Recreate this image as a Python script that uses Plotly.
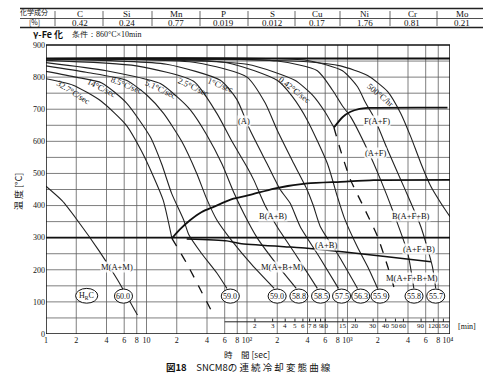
import numpy as np
import plotly.graph_objects as go

# ---------------- data ----------------
elements = ["C", "Si", "Mn", "P", "S", "Cu", "Ni", "Cr", "Mo"]
composition = ["0.42", "0.24", "0.77", "0.019", "0.012", "0.17", "1.76", "0.81", "0.21"]

# cooling curves: log10(time [s]) , temperature [C]
cool_curves = {
    "c0":    ([0, 0.16, 0.31, 0.53, 0.71, 0.91], [460, 415, 355, 258, 170, 59]),
    "32.7":  ([0, 0.27, 0.55, 0.8, 0.95, 1.07, 1.166, 1.253], [795, 775, 725, 650, 570, 490, 417, 298]),
    "14":    ([0, 0.3, 0.555, 0.8, 1.037, 1.15, 1.25, 1.37, 1.42, 1.55, 1.70, 1.80],
              [818, 800, 782, 720, 614, 530, 438, 355, 310, 250, 190, 142]),
    "8.5":   ([0, 0.4, 0.80, 1.0, 1.17, 1.35, 1.5, 1.6, 1.70, 1.85, 2.05, 2.27],
              [835, 815, 790, 745, 687, 600, 500, 420, 355, 290, 215, 142]),
    "5.1":   ([0, 0.6, 1.137, 1.3, 1.436, 1.6, 1.75, 1.87, 1.967, 2.1, 2.3, 2.49],
              [845, 820, 780, 740, 698, 620, 530, 440, 376, 300, 215, 142]),
    "2.5":   ([0, 0.9, 1.469, 1.70, 1.85, 2.0, 2.067, 2.18, 2.30, 2.5, 2.70],
              [852, 835, 787, 687, 600, 520, 480, 400, 334, 240, 142]),
    "1":     ([0, 1.2, 1.735, 1.9, 2.03, 2.2, 2.33, 2.43, 2.53, 2.72, 2.91],
              [856, 840, 790, 730, 635, 530, 450, 407, 334, 240, 142]),
    "c7":    ([0, 1.5, 2.0, 2.18, 2.30, 2.45, 2.60, 2.66, 2.73, 2.92, 3.10],
              [857, 845, 800, 720, 635, 540, 448, 400, 334, 240, 142]),
    "c8":    ([0, 1.8, 2.3, 2.45, 2.60, 2.80, 2.90, 2.97, 3.1, 3.2, 3.30],
              [858, 845, 790, 740, 666, 531, 427, 360, 270, 210, 142]),
    "0.42":  ([0, 2.0, 2.476, 2.65, 2.78, 2.865], [858, 840, 790, 745, 690, 643]),
    "c9":    ([0, 2.3, 2.7, 2.85, 2.95, 3.03, 3.2, 3.33, 3.46, 3.60, 3.66],
              [858, 850, 820, 760, 710, 677, 573, 480, 376, 251, 142]),
    "c10":   ([0, 2.6, 2.95, 3.1, 3.18, 3.26, 3.40, 3.56, 3.73, 3.845, 3.878],
              [858, 852, 820, 770, 720, 677, 573, 459, 334, 210, 142]),
    "500hr": ([0, 1.934, 2.60, 2.93, 3.20, 3.40, 3.53, 3.63, 3.73, 3.83, 3.93, 4.02],
              [858, 854, 848, 835, 805, 755, 687, 614, 532, 459, 407, 365]),
}
rate_labels = ["32.7°C/sec", "14°C/sec", "8.5°C/sec", "5.1°C/sec", "2.5°C/sec", "1°C/sec", "0.42°C/sec", "500°C/hr"]
rate_label_x = [0.272, 0.555, 0.80, 1.137, 1.469, 1.735, 2.476, 3.33]
rate_label_T = [755, 765, 775, 762, 770, 775, 760, 745]
rate_label_angle = [32, 27, 22, 25, 25, 22, 38, 40]

# transformation lines (log10 time, temperature)
top_line = ([0, 4.02], [858, 858])
ms_line = ([0, 4.02], [300, 300])
bs_line = ([1.253, 1.33, 1.436, 1.55, 1.668, 1.85, 2.03, 2.27, 2.6, 2.93, 3.26, 4.02],
           [298, 325, 355, 380, 396, 420, 433, 453, 469, 474, 479, 480])
fs_line = ([2.865, 2.95, 3.03, 3.12, 3.2, 3.995], [643, 675, 692, 701, 704, 705])
ms2_line = ([1.40, 1.80, 1.93, 2.37, 2.60, 3.33, 3.83], [296, 290, 282, 272, 267, 243, 225])
dash_b = ([1.253, 1.40, 1.55, 1.668], [298, 220, 130, 59])
dash_f = ([2.865, 2.93, 3.03, 3.16, 3.30, 3.40, 3.48], [643, 573, 480, 396, 303, 210, 127])

region_labels = ["(A)", "F(A+F)", "(A+F)", "B(A+B)", "B(A+F+B)", "(A+B)", "(A+F+B)",
                 "M(A+B+M)", "M(A+F+B+M)", "M(A+M)"]
region_x = [1.967, 3.297, 3.28, 2.256, 3.63, 2.788, 3.712, 2.35, 3.646, 0.705]
region_T = [663, 664, 565, 369, 369, 277, 264, 210, 173, 210]

hardness = ["60.0", "59.0", "59.0", "58.8", "58.5", "57.5", "56.3", "55.9", "55.8", "55.7"]
hardness_x = [0.771, 1.834, 2.30, 2.516, 2.732, 2.941, 3.131, 3.323, 3.662, 3.878]
hardness_T = 118

sec_ticks = [1, 2, 4, 6, 8, 10, 20, 40, 60, 80, 100, 200, 400, 600, 800, 1000, 2000, 4000, 6000, 8000, 10000]
sec_tick_text = ["1", "2", "4", "6", "8", "10", "2", "4", "6", "8", "10²", "2", "4", "6", "8", "10³",
                 "2", "4", "6", "8", "10⁴"]
min_ticks = [2, 3, 4, 5, 6, 7, 8, 9, 10, 15, 20, 30, 40, 50, 60, 90, 120, 150]
temp_ticks = list(range(0, 901, 100))

# ---------------- figure ----------------
SERIF = "Liberation Serif"
CJK = "Noto Sans CJK JP"
INK = "#111"
GRID = "#5e5e5e"
XMAX = 4.02
YTOP = 334 / 0.3211          # axis extends to the top edge of the page so the header table fits inside
fig = go.Figure()

# pixel helpers for decorations (paper coords; plot area spans x 46..450, y 0..334)
PX = lambda px: (px - 46) / 404.0
PY = lambda py: (334 - py) / 334.0


def note(x, y, text, size=8.5, family=SERIF, angle=0, xanchor="center", bg=None, xshift=0, paper=False):
    kw = dict(x=x, y=y, text=text, showarrow=False, textangle=angle, xanchor=xanchor, yanchor="middle",
              xshift=xshift, font=dict(family=family, size=size, color=INK))
    if paper:
        kw.update(xref="paper", yref="paper")
    if bg:
        kw.update(bgcolor=bg, borderpad=0)
    fig.add_annotation(**kw)


def seg(x, y, w=1.0, color="#222", dash="solid", spline=False):
    line = dict(color=color, width=w, dash=dash)
    if spline:
        line.update(shape="spline", smoothing=0.6)
    fig.add_trace(go.Scatter(x=x, y=y, mode="lines", line=line, hoverinfo="skip", showlegend=False))


# grid and frame
for T in range(50, 900, 50):
    fig.add_shape(type="line", xref="x", yref="y", x0=0, x1=XMAX, y0=T, y1=T, layer="below",
                  line=dict(color=GRID, width=0.8))
for t in sec_ticks[1:-1]:
    fig.add_shape(type="line", xref="x", yref="y", x0=np.log10(t), x1=np.log10(t), y0=0, y1=900,
                  layer="below", line=dict(color=GRID, width=0.8))
fig.add_shape(type="rect", xref="x", yref="y", x0=0, x1=XMAX, y0=0, y1=900, line=dict(color=INK, width=1.5))

for name, (lx, T) in cool_curves.items():
    seg(lx, T, w=1.1, color="#222", spline=True)

for (lx, T), w, d in [(top_line, 1.8, "solid"), (ms_line, 1.8, "solid"), (bs_line, 1.8, "solid"),
                      (fs_line, 1.8, "solid"), (ms2_line, 1.5, "solid"),
                      (dash_b, 1.3, "dash"), (dash_f, 1.3, "dash")]:
    seg(lx, T, w=w, color=INK, dash=d, spline=True)

# minute scale
seg([np.log10(60), XMAX], [38, 38], w=1)
for m in min_ticks:
    seg([np.log10(m * 60)] * 2, [38, 48], w=1)
    note(np.log10(m * 60), 24, str(m), size=7)
note(XMAX, 24, "[min]", size=8, xanchor="left", xshift=6)

for txt, x, T, a in zip(rate_labels, rate_label_x, rate_label_T, rate_label_angle):
    note(x, T, txt, size=8.5, angle=a)
for txt, x, T in zip(region_labels, region_x, region_T):
    note(x, T, txt, size=8.5, bg="rgba(255,255,255,0.85)")
for txt, x in zip(hardness, hardness_x):
    fig.add_shape(type="circle", xref="x", yref="y", x0=x - 0.09, x1=x + 0.09, y0=hardness_T - 22,
                  y1=hardness_T + 22, line=dict(color=INK, width=1), fillcolor="white")
    note(x, hardness_T, txt, size=8)
xh = 0.405
fig.add_shape(type="circle", xref="x", yref="y", x0=xh - 0.11, x1=xh + 0.11, y0=96, y1=142,
              line=dict(color=INK, width=1), fillcolor="white")
note(xh, 119, "H<sub>R</sub>C", size=8)

# header table
for py, w in [(8.5, 1.5), (18.5, 0.8), (27.5, 1.5)]:
    fig.add_shape(type="line", xref="paper", yref="paper", x0=PX(20), x1=PX(483), y0=PY(py), y1=PY(py),
                  line=dict(color="#222", width=w))
for px in [55, 103, 152, 200, 248, 295, 340, 390, 437]:
    fig.add_shape(type="line", xref="paper", yref="paper", x0=PX(px), x1=PX(px), y0=PY(11), y1=PY(26),
                  line=dict(color="#444", width=0.8))
note(PX(34), PY(12), "化学成分", size=7, family=CJK, paper=True)
note(PX(34), PY(22.5), "[%]", size=7, family=CJK, paper=True)
col_x = [80, 127, 176, 223, 272, 317, 365, 412, 462]
for e, v, px in zip(elements, composition, col_x):
    note(PX(px), PY(13.5), e, size=9, paper=True)
    note(PX(px), PY(23), v, size=9, paper=True)
note(PX(31), PY(34), "<b>γ-Fe 化</b>", size=9, family=CJK, xanchor="left", paper=True)
note(PX(70), PY(34), "条件：860°C×10min", size=8, xanchor="left", paper=True)

# axis titles & caption
note(PX(18), PY(191), "温 度 [°C]", size=9, family=CJK, angle=-90, paper=True)
note(PX(247), PY(354), "時　間 [sec]", size=8.5, family=CJK, paper=True)
note(PX(248), PY(367), "<b>図18</b>　SNCM8の 連 続 冷 却 変 態 曲 線", size=9.5, family=CJK, paper=True)

fig.update_xaxes(range=[0, XMAX], tickvals=np.log10(sec_ticks), ticktext=sec_tick_text,
                 showgrid=False, zeroline=False, showline=False, ticks="",
                 tickfont=dict(family=SERIF, size=8, color=INK))
fig.update_yaxes(range=[0, YTOP], tickvals=temp_ticks, showgrid=False, zeroline=False,
                 showline=False, ticks="", tickfont=dict(family=SERIF, size=8, color=INK))

fig.update_layout(width=500, height=373, margin=dict(l=46, r=50, t=0, b=39),
                  paper_bgcolor="white", plot_bgcolor="white", showlegend=False)
fig.write_html("out.html")
